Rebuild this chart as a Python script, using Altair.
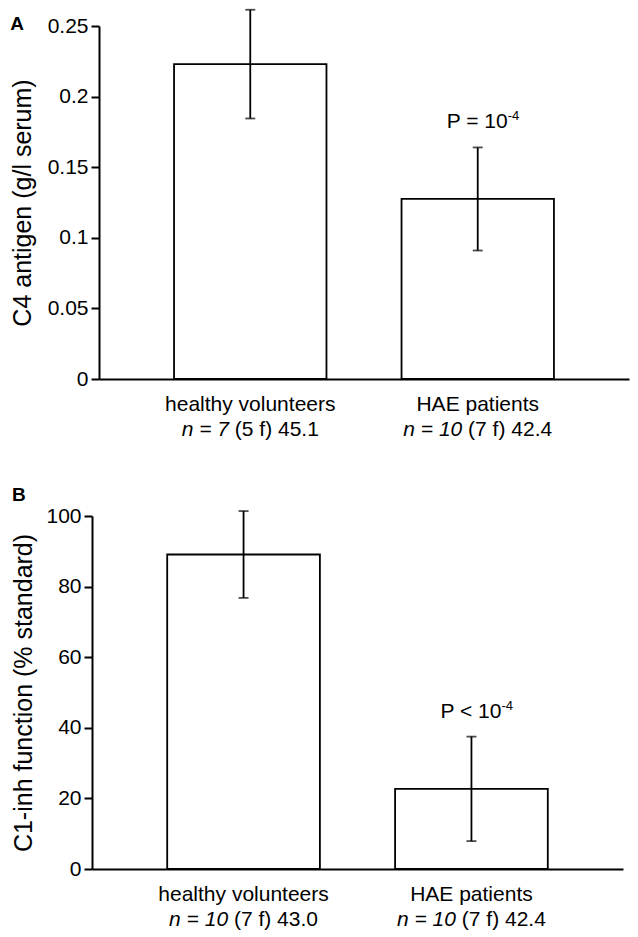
import altair as alt
import pandas as pd

groups = ["healthy volunteers", "HAE patients"]
c4_mean = [0.223, 0.1275]
c4_err = [0.0385, 0.0365]
c1_mean = [89.1, 22.7]
c1_err = [12.3, 14.8]
c4_n = ["n = 7", "n = 10"]
c4_rest = ["(5 f) 45.1", "(7 f) 42.4"]
c1_n = ["n = 10", "n = 10"]
c1_rest = ["(7 f) 43.0", "(7 f) 42.4"]
c4_ticks = [0, 0.05, 0.1, 0.15, 0.2, 0.25]
c1_ticks = [0, 20, 40, 60, 80, 100]
p_base = ["P = 10", "P < 10"]
p_sup = "-4"

FONT = "Liberation Sans"
FS = 21
TFS = 25
W, H = 530, 353
PAD_IN, PAD_OUT = 0.33, 0.33

# Arial advance widths (em) for centring the mixed italic/roman second label line
ARIAL = {" ": 0.278, "=": 0.584, "(": 0.333, ")": 0.333, "f": 0.278, ".": 0.278,
         "n": 0.556, "<": 0.584, "P": 0.667}


def tw(s):
    return sum(ARIAL.get(c, 0.556) for c in s) * FS


def panel(mean, err, ns, rests, ticks, fmt, ytitle, tpad, letter, title_dy, pbase, shift):
    r0, r1 = (-shift, W - 6) if shift else (0, W)
    step = (r1 - r0) / (len(groups) - PAD_IN + 2 * PAD_OUT)
    half_bw = step * (1 - PAD_IN) / 2
    rows = []
    for g, m, e, n, r in zip(groups, mean, err, ns, rests):
        wi, ws, wr = tw(n), tw(" "), tw(r)
        total = wi + ws + wr
        rows.append({"group": g, "mean": m, "lo": m - e, "hi": m + e,
                     "n": n, "rest": r,
                     "offI": half_bw - total / 2 + wi,
                     "offR": half_bw - total / 2 + wi + ws})
    df = pd.DataFrame(rows)
    pdf = pd.DataFrame([{"group": groups[1], "hi": rows[1]["hi"], "p": pbase, "s": p_sup}])

    if shift:
        sc = alt.Scale(paddingInner=PAD_IN, paddingOuter=PAD_OUT, range=[r0, r1])
    else:
        sc = alt.Scale(paddingInner=PAD_IN, paddingOuter=PAD_OUT)
    x = alt.X("group:N", sort=groups, scale=sc,
              axis=alt.Axis(title=None, ticks=False, labelAngle=0, labelPadding=14,
                            labelFontSize=FS, labelFont=FONT, labelColor="black",
                            domainColor="black", domainWidth=2))
    y = alt.Y("mean:Q", scale=alt.Scale(domain=[ticks[0], ticks[-1]], nice=False),
              axis=alt.Axis(title=ytitle, values=ticks, format=fmt, grid=False,
                            offset=shift, tickSize=8, tickWidth=2, tickColor="black",
                            domainColor="black", domainWidth=2, labelPadding=3,
                            labelFontSize=FS, labelFont=FONT, labelColor="black",
                            titleFontSize=TFS, titleFont=FONT, titleFontWeight="normal",
                            titleColor="black", titlePadding=tpad))
    base = alt.Chart(df)
    bars = base.mark_bar(fill="white", stroke="black", strokeWidth=1.8).encode(x=x, y=y)
    rule = base.mark_rule(color="black", strokeWidth=1.8).encode(
        x=x, y=alt.Y("lo:Q"), y2="hi:Q")
    caps = base.transform_fold(["lo", "hi"], as_=["k", "v"]).mark_tick(
        color="black", size=10, thickness=1.8).encode(x=x, y=alt.Y("v:Q"))
    t_it = base.mark_text(font=FONT, fontSize=FS, fontStyle="italic", align="right",
                          baseline="alphabetic", dy=57, color="black").encode(
        x=x, xOffset=alt.XOffset("offI:Q", scale=None), y=alt.datum(0), text="n:N")
    t_rm = base.mark_text(font=FONT, fontSize=FS, align="left",
                          baseline="alphabetic", dy=57, color="black").encode(
        x=x, xOffset=alt.XOffset("offR:Q", scale=None), y=alt.datum(0), text="rest:N")
    pb = alt.Chart(pdf).mark_text(font=FONT, fontSize=FS, align="right", dx=30, dy=-19,
                                  baseline="alphabetic", color="black").encode(
        x=x, y=alt.Y("hi:Q"), text="p:N")
    ps = alt.Chart(pdf).mark_text(font=FONT, fontSize=13, align="left", dx=30, dy=-27,
                                  baseline="alphabetic", color="black").encode(
        x=x, y=alt.Y("hi:Q"), text="s:N")
    return alt.layer(bars, rule, caps, t_it, t_rm, pb, ps).properties(
        width=W, height=H,
        title=alt.TitleParams(letter, anchor="start", frame="bounds", font=FONT,
                              fontSize=19, fontWeight="bold", color="black", offset=0,
                              dy=title_dy))


a = panel(c4_mean, c4_err, c4_n, c4_rest, c4_ticks, "~g", "C4 antigen (g/l serum)", 12,
          "A", 25, p_base[0], 0)
b = panel(c1_mean, c1_err, c1_n, c1_rest, c1_ticks, "d", "C1-inh function (% standard)", 9,
          "B", 0, p_base[1], 7)

chart = (alt.vconcat(a, b, spacing=46)
         .resolve_scale(x="independent", y="independent")
         .properties(padding={"left": 2, "top": 0, "right": 0, "bottom": 0})
         .configure_view(stroke=None))
chart.save("out.html", embed_options={"renderer": "svg", "actions": False})
